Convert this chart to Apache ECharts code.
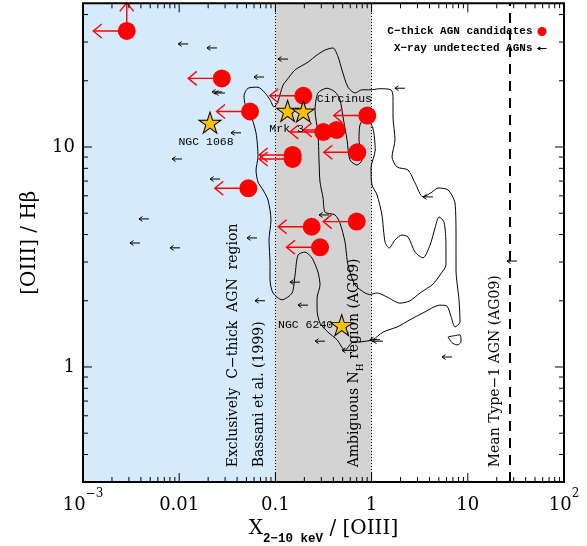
<!DOCTYPE html>
<html>
<head>
<meta charset="utf-8">
<title>[OIII]/Hbeta vs X/[OIII]</title>
<script src="https://cdn.jsdelivr.net/npm/echarts@6/dist/echarts.min.js"></script>
<style>
  html, body { margin: 0; padding: 0; background: #fff; }
  #chart { width: 587px; height: 546px; }
</style>
</head>
<body>
<div id="chart"></div>
<script>
var chart = echarts.init(document.getElementById('chart'));

// axes
var xRange = [0.001, 100];
var yRange = [0.3, 45];
var xTickValues = [0.001, 0.01, 0.1, 1, 10, 100];
var xTickLabels = ['10^−3', '0.01', '0.1', '1', '10', '10^2'];
var yTickValues = [1, 10];
var yTickLabels = ['1', '10'];

// C-thick AGN candidates (upper limits on X/[OIII]), first one is also an upper limit in y
var cthickX = [0.00285, 0.0277, 0.0545, 0.0523, 0.151, 0.151, 0.195, 0.902, 0.315, 0.434, 0.710, 0.238, 0.700, 0.291];
var cthickY = [33.7, 20.5, 14.5, 6.49, 9.2, 8.82, 17.1, 13.9, 11.7, 11.95, 9.46, 4.34, 4.58, 3.50];
var cthickUpY = [1, 0, 0, 0, 0, 0, 0, 0, 0, 0, 0, 0, 0, 0];

// X-ray undetected AGNs (upper limits)
var undetX = [0.0124, 0.0247, 0.0761, 0.135, 2.22, 0.0279, 0.0299, 0.0439, 0.0107, 0.0266, 0.00485, 0.00391, 0.0102,
              0.0644, 0.180, 0.218, 0.328, 0.625, 1.22, 1.31, 6.85, 4.35, 32.5, 0.361, 0.078];
var undetY = [29.4, 28.2, 20.8, 25.1, 18.5, 17.8, 17.6, 11.6, 8.82, 7.15, 4.71, 3.66, 3.48,
              3.86, 2.43, 1.91, 1.31, 1.19, 1.33, 1.31, 1.11, 5.93, 3.03, 4.91, 2.00];

// well known sources
var starNames = ['NGC 1068', 'Mrk 3', 'Circinus', 'NGC 6240'];
var starX = [0.0209, 0.134, 0.195, 0.489];
var starY = [12.9, 14.6, 14.5, 1.55];

// regions and reference lines
var cthickBand = [0.001, 0.1];
var ambiguousBand = [0.1, 1];
var meanType1 = 27;

// density contours of the comparison sample
var contourOuter = [[0.106,16.0],[0.0967,15.2],[0.0879,16.4],[0.078,17.6],[0.0659,18.7],[0.0519,18.5],[0.0472,17.1],
  [0.0483,15.7],[0.0545,14.3],[0.0629,11.6],[0.0659,9.01],[0.0629,7.86],[0.0659,6.93],[0.0743,6.38],[0.0838,5.74],
  [0.09,4.66],[0.0858,3.78],[0.0879,2.97],[0.0879,2.49],[0.0944,2.17],[0.117,2.02],[0.149,2.17],[0.16,2.62],
  [0.172,3.23],[0.203,3.33],[0.24,3.13],[0.277,2.7],[0.291,2.36],[0.271,2.06],[0.271,1.82],[0.291,1.58],[0.352,1.44],
  [0.437,1.33],[0.529,1.19],[0.626,1.29],[0.757,1.3],[1.03,1.33],[1.31,1.44],[1.84,1.52],[2.51,1.64],[3.42,1.76],
  [5.14,1.91],[6.08,1.89],[6.69,1.7],[7.36,1.52],[8.3,1.6],[8.1,2.02],[7.54,2.76],[7.54,3.9],[7.36,5.57],[6.23,6.38],
  [4.9,6.51],[4.25,6.24],[3.42,5.93],[2.83,6.86],[2.39,7.86],[1.84,8.11],[1.63,9.01],[1.75,10.8],[1.67,13.7],
  [1.67,16.9],[1.59,18.2],[1.22,18.4],[0.963,18.2],[0.795,18.2],[0.672,17.6],[0.568,18.7],[0.492,22.4],[0.448,25.7],
  [0.397,28.2],[0.328,27.6],[0.271,26.2],[0.218,24.3],[0.16,22.4],[0.132,20.2],[0.12,19.1],[0.106,16.0]];
var contourInner = [[0.963,2.13],[0.854,2.17],[0.672,2.36],[0.568,2.91],[0.529,3.7],[0.469,4.51],[0.417,4.91],
  [0.328,5.06],[0.313,5.87],[0.291,6.93],[0.284,8.73],[0.277,11.6],[0.258,14.7],[0.277,17.6],[0.344,18.5],[0.417,17.8],
  [0.469,16.4],[0.504,13.7],[0.555,10.8],[0.596,8.73],[0.705,8.28],[0.795,8.73],[0.74,10.8],[0.757,12.6],[0.875,13.6],
  [1.03,12.2],[1.09,9.69],[0.986,8.03],[1.01,6.72],[1.14,6.05],[1.28,4.91],[1.38,3.7],[1.52,3.47],[1.75,3.78],
  [2.07,3.98],[2.39,3.9],[2.83,3.33],[3.42,3.13],[4.05,3.58],[4.56,4.28],[5.02,4.81],[5.66,4.56],[5.93,3.58],
  [5.93,2.91],[5.14,2.62],[4.35,2.38],[3.19,2.17],[2.51,2.0],[1.97,1.95],[1.45,2.08],[1.14,2.17],[0.963,2.13]];
var contourIsland = [[6.23,1.37],[8.3,1.4],[8.5,1.3],[7.72,1.26],[6.85,1.29],[6.23,1.37]];

// vertical notes
var noteText = ['Exclusively  C−thick  AGN  region', 'Bassani et al. (1999)', 'Ambiguous N_H region (AG09)', 'Mean Type−1 AGN (AG09)'];
var noteX = [0.038, 0.0717, 0.697, 20.1];
var noteY = [0.35, 0.35, 0.35, 0.35];

var serif = 'DejaVu Serif';
var mono = 'Liberation Mono';

// minor ticks 2..9 in each decade
var xMinor = [], yMinor = [];
for (var e = -3; e < 2; e++) for (var d = 2; d < 10; d++) xMinor.push(d * Math.pow(10, e));
for (var e2 = -1; e2 < 2; e2++) for (var d2 = 2; d2 < 10; d2++) {
  var v = d2 * Math.pow(10, e2);
  if (v > yRange[0] * 1.001 && v < yRange[1]) yMinor.push(v);
}
var xTickData = xTickValues.map(function (v) { return [v, yRange[0], 1]; })
  .concat(xMinor.map(function (v) { return [v, yRange[0], 0]; }));
var yTickData = yTickValues.map(function (v) { return [xRange[0], v, 1]; })
  .concat(yMinor.map(function (v) { return [xRange[0], v, 0]; }));

function tickLine(x1, y1, x2, y2) {
  return { type: 'line', shape: { x1: x1, y1: y1, x2: x2, y2: y2 }, style: { stroke: '#000', lineWidth: 1 } };
}

function redArrows(params, api) {
  var p = api.coord([api.value(0), api.value(1)]);
  var len = 33.5, h = 8.5, w = 7;
  var st = { stroke: '#ff0000', lineWidth: 1.4, fill: 'none' };
  var kids = [
    { type: 'line', shape: { x1: p[0], y1: p[1], x2: p[0] - len, y2: p[1] }, style: st },
    { type: 'polyline', shape: { points: [[p[0] - len + h, p[1] - w], [p[0] - len, p[1]], [p[0] - len + h, p[1] + w]] }, style: st }
  ];
  if (api.value(2)) {
    var up = 28;
    kids.push({ type: 'line', shape: { x1: p[0], y1: p[1], x2: p[0], y2: p[1] - up }, style: st });
    kids.push({ type: 'polyline', shape: { points: [[p[0] - w, p[1] - up + h], [p[0], p[1] - up], [p[0] + w, p[1] - up + h]] }, style: st });
  }
  return { type: 'group', children: kids };
}

function blackArrows(params, api) {
  var p = api.coord([api.value(0), api.value(1)]);
  var st = { stroke: '#000', lineWidth: 1, fill: 'none' };
  return { type: 'group', children: [
    { type: 'line', shape: { x1: p[0], y1: p[1], x2: p[0] - 10, y2: p[1] }, style: st },
    { type: 'polyline', shape: { points: [[p[0] - 6.5, p[1] - 2.4], [p[0] - 10, p[1]], [p[0] - 6.5, p[1] + 2.4]] }, style: st }
  ] };
}

var noteRich = {
  a: { fontFamily: serif, fontSize: 14, lineHeight: 18, verticalAlign: 'top', fill: '#000' },
  h: { fontFamily: serif, fontSize: 9, lineHeight: 9, verticalAlign: 'bottom', fill: '#000' }
};
function noteRichText(s) {
  return '{a|' + s.replace(/_(\w)/g, '}{h|$1}{a|') + '}';
}

var starLabelLayout = [
  { position: 'bottom', distance: 2, offset: [-4, 0] },
  { position: 'bottom', distance: 1, offset: [-1, 0] },
  { position: 'right', distance: 2, offset: [0, -13] },
  { position: 'left', distance: -3, offset: [0, 0] }
];

var option = {
  animation: false,
  backgroundColor: '#fff',
  grid: { left: 83, right: 23, top: 3.3, bottom: 64, containLabel: false, outerBoundsMode: 'none' },
  legend: {
    orient: 'vertical', right: 35, top: 21, align: 'right',
    itemWidth: 9, itemHeight: 9, itemGap: 6, selectedMode: false,
    textStyle: { fontFamily: mono, fontWeight: 'bold', fontSize: 11, color: '#000' },
    data: [
      { name: 'C−thick AGN candidates', icon: 'circle', itemStyle: { color: '#ff0000', borderWidth: 0, opacity: 1 } },
      { name: 'X−ray undetected AGNs', icon: 'path://M0,4 L20,4 M0,4 L7,0.5 M0,4 L7,7.5',
        itemStyle: { color: 'rgba(0,0,0,0)', borderColor: '#000', borderWidth: 1 } }
    ]
  },
  xAxis: {
    type: 'log', logBase: 10, min: xRange[0], max: xRange[1],
    name: '{x|X}{s|2−10 keV}{x| / [OIII]}', nameLocation: 'middle', nameGap: 37, nameMoveOverlap: false,
    nameTextStyle: {
      color: '#000',
      rich: {
        x: { fontFamily: serif, fontSize: 20, lineHeight: 26, verticalAlign: 'top', color: '#000' },
        s: { fontFamily: mono, fontWeight: 'bold', fontSize: 12.5, lineHeight: 12, verticalAlign: 'bottom', color: '#000' }
      }
    },
    axisLine: { show: false }, axisTick: { show: false }, splitLine: { show: false },
    minorTick: { show: false }, minorSplitLine: { show: false },
    axisLabel: {
      margin: 6, color: '#000',
      formatter: function (val) {
        var k = Math.round(Math.log10(val));
        for (var i = 0; i < xTickValues.length; i++) {
          if (Math.round(Math.log10(xTickValues[i])) === k) {
            var parts = xTickLabels[i].split('^');
            return '{b|' + parts[0] + '}' + (parts[1] ? '{s|' + parts[1] + '}' : '');
          }
        }
        return '';
      },
      rich: {
        b: { fontFamily: serif, fontSize: 18, lineHeight: 26, verticalAlign: 'bottom', color: '#000' },
        s: { fontFamily: serif, fontSize: 12, lineHeight: 12, verticalAlign: 'top', color: '#000' }
      }
    }
  },
  yAxis: {
    type: 'log', logBase: 10, min: yRange[0], max: yRange[1],
    name: '[OIII] / Hβ', nameLocation: 'middle', nameGap: 43, nameRotate: 90, nameMoveOverlap: false,
    nameTextStyle: { fontFamily: serif, fontSize: 20, color: '#000' },
    axisLine: { show: false }, axisTick: { show: false }, splitLine: { show: false },
    minorTick: { show: false }, minorSplitLine: { show: false },
    axisLabel: {
      margin: 8, color: '#000', fontFamily: serif, fontSize: 18,
      formatter: function (val) {
        for (var i = 0; i < yTickValues.length; i++) {
          if (Math.abs(val - yTickValues[i]) < 1e-6 * yTickValues[i]) return yTickLabels[i];
        }
        return '';
      }
    }
  },
  series: [
    {
      // shaded regions
      type: 'line', name: 'bands', data: [], silent: true, z: 1,
      markArea: {
        silent: true, z: 0,
        data: [
          [{ xAxis: cthickBand[0], itemStyle: { color: '#d5eafb', opacity: 1 } }, { xAxis: cthickBand[1] }],
          [{ xAxis: ambiguousBand[0], itemStyle: { color: '#d3d3d3', opacity: 1 } }, { xAxis: ambiguousBand[1] }]
        ]
      }
    },
    {
      type: 'line', name: 'limits', data: [], silent: true, z: 1,
      markLine: {
        silent: true, z: 1, symbol: ['none', 'none'], label: { show: false },
        emphasis: { disabled: true },
        data: [
          { xAxis: ambiguousBand[0], lineStyle: { color: '#000', width: 1, type: [1, 2], opacity: 1 } },
          { xAxis: ambiguousBand[1], lineStyle: { color: '#000', width: 1, type: [1, 2], opacity: 1 } },
          { xAxis: meanType1, lineStyle: { color: '#000', width: 2, type: [10, 7], opacity: 1 } }
        ]
      }
    },
    {
      type: 'line', name: 'contour outer', data: contourOuter, showSymbol: false, symbol: 'none',
      smooth: 0.25, silent: true, z: 2, lineStyle: { color: '#000', width: 1 }
    },
    {
      type: 'line', name: 'contour inner', data: contourInner, showSymbol: false, symbol: 'none',
      smooth: 0.25, silent: true, z: 2, lineStyle: { color: '#000', width: 1 }
    },
    {
      type: 'line', name: 'contour island', data: contourIsland, showSymbol: false, symbol: 'none',
      smooth: 0.3, silent: true, z: 2, lineStyle: { color: '#000', width: 1 }
    },
    {
      type: 'custom', name: 'X−ray undetected AGNs', silent: true, z: 3,
      itemStyle: { color: '#000' },
      data: undetX.map(function (x, i) { return [x, undetY[i]]; }),
      renderItem: blackArrows
    },
    {
      type: 'custom', name: 'C−thick limits', silent: true, z: 3,
      data: cthickX.map(function (x, i) { return [x, cthickY[i], cthickUpY[i]]; }),
      renderItem: redArrows
    },
    {
      type: 'scatter', name: 'C−thick AGN candidates', silent: true, z: 4,
      symbol: 'circle', symbolSize: 18, itemStyle: { color: '#ff0000', opacity: 1 },
      data: cthickX.map(function (x, i) { return [x, cthickY[i]]; })
    },
    {
      type: 'scatter', name: 'named', silent: true, z: 5,
      symbol: 'path://M50,0 L61.23,34.55 L97.55,34.55 L68.17,55.9 L79.39,90.45 L50,69.1 L20.61,90.45 L31.83,55.9 L2.45,34.55 L38.77,34.55 Z',
      symbolSize: [22, 21],
      itemStyle: { color: '#ffc107', borderColor: '#000', borderWidth: 1, opacity: 1 },
      label: { show: true, formatter: '{b}', fontFamily: mono, fontSize: 11.5, color: '#000' },
      data: starNames.map(function (n, i) {
        return { name: n, value: [starX[i], starY[i]], label: starLabelLayout[i] };
      })
    },
    {
      type: 'custom', name: 'notes', silent: true, z: 6,
      data: noteX.map(function (x, i) { return [x, noteY[i]]; }),
      renderItem: function (params, api) {
        var p = api.coord([api.value(0), api.value(1)]);
        return {
          type: 'text', x: p[0], y: p[1], rotation: Math.PI / 2,
          style: {
            text: noteRichText(noteText[params.dataIndex]), rich: noteRich,
            fontFamily: serif, fontSize: 14, fill: '#000', align: 'left', verticalAlign: 'middle'
          }
        };
      }
    },
    {
      type: 'custom', name: 'x ticks', silent: true, z: 20, data: xTickData,
      renderItem: function (params, api) {
        var v = api.value(0), len = api.value(2) ? 9 : 5;
        var b = api.coord([v, yRange[0]]), t = api.coord([v, yRange[1]]);
        return { type: 'group', children: [tickLine(b[0], b[1], b[0], b[1] - len), tickLine(t[0], t[1], t[0], t[1] + len)] };
      }
    },
    {
      type: 'custom', name: 'y ticks', silent: true, z: 20, data: yTickData,
      renderItem: function (params, api) {
        var v = api.value(1), len = api.value(2) ? 9 : 5;
        var l = api.coord([xRange[0], v]), r = api.coord([xRange[1], v]);
        return { type: 'group', children: [tickLine(l[0], l[1], l[0] + len, l[1]), tickLine(r[0], r[1], r[0] - len, r[1])] };
      }
    },
    {
      type: 'custom', name: 'frame', silent: true, z: 21, data: [[xRange[0], yRange[0]]],
      renderItem: function (params, api) {
        var a = api.coord([xRange[0], yRange[1]]), b = api.coord([xRange[1], yRange[0]]);
        return { type: 'rect', shape: { x: a[0], y: a[1], width: b[0] - a[0], height: b[1] - a[1] },
                 style: { fill: 'none', stroke: '#000', lineWidth: 2 } };
      }
    }
  ]
};

chart.setOption(option);
</script>
</body>
</html>
